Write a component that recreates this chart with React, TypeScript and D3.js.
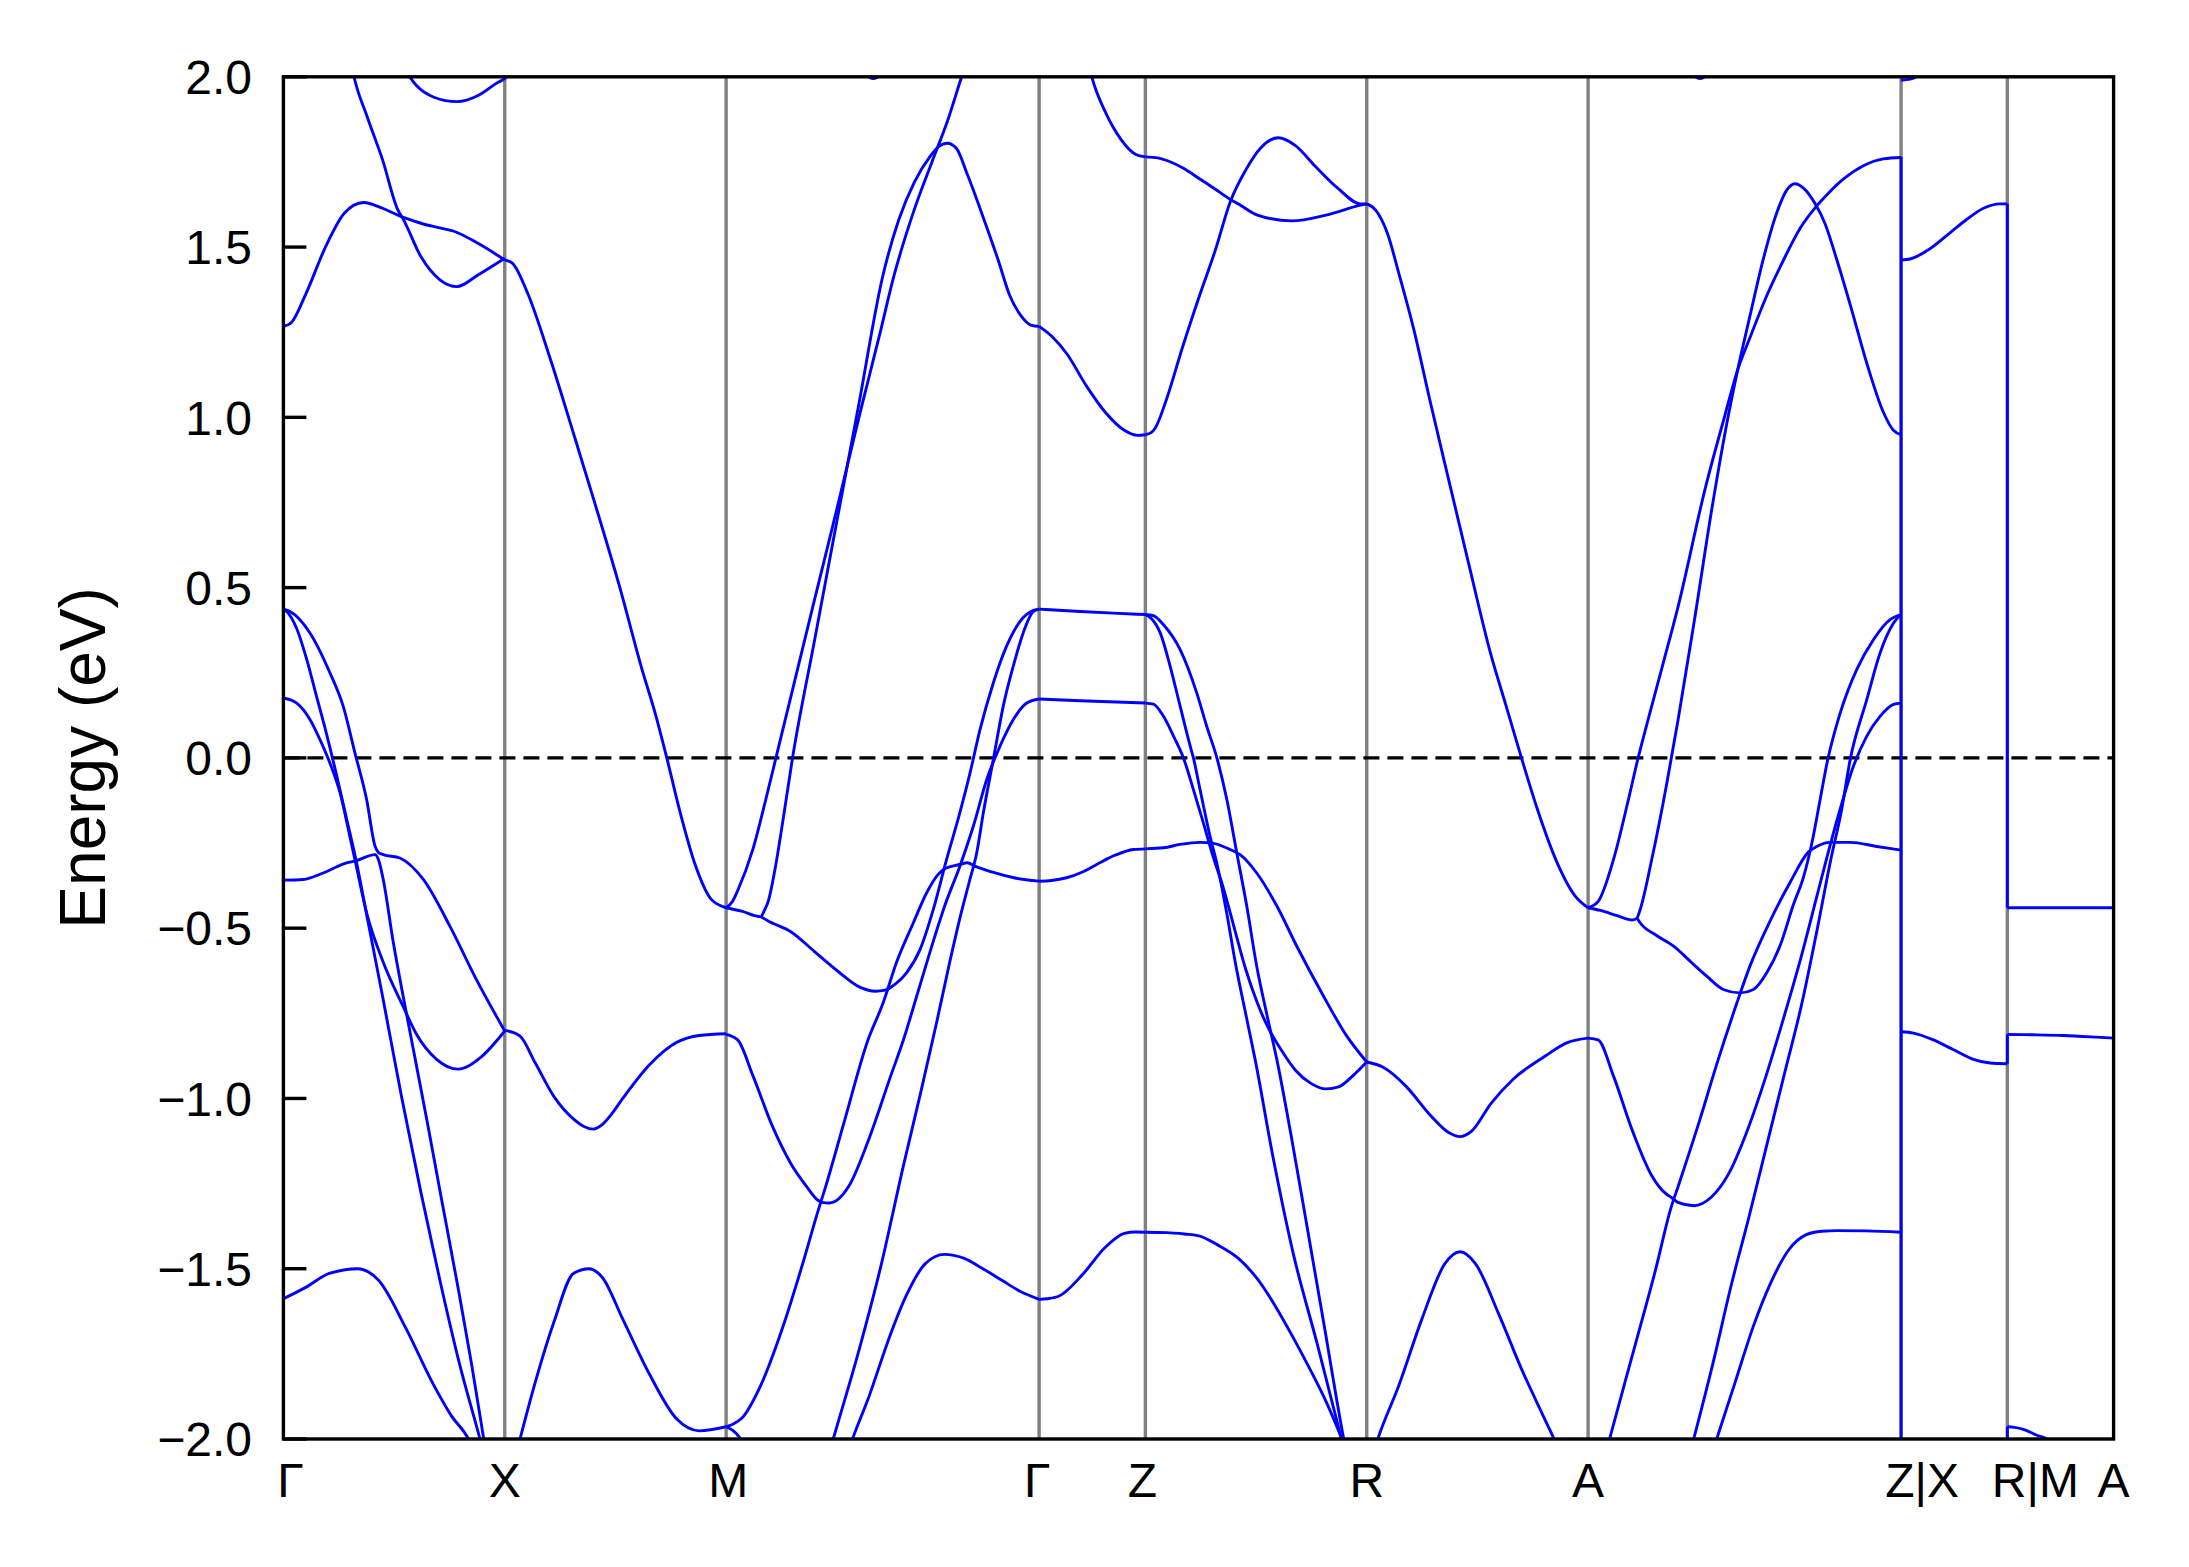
import React, { useEffect } from 'react';
import * as d3 from 'd3';

type P = [number, number];

// ---- axis data ----
const kTicks = [0, 1, 2, 3.414, 3.894, 4.894, 5.894, 7.308, 7.788, 8.268];
const kLabels = ['Γ', 'X', 'M', 'Γ', 'Z', 'R', 'A', 'Z|X', 'R|M', 'A'];
const eTicks = [-2.0, -1.5, -1.0, -0.5, 0.0, 0.5, 1.0, 1.5, 2.0];

// ---- Γ–X ----
const gxT1: P[] = [[0.30,2.06],[0.319,2.0],[0.38,1.88],[0.448,1.756],[0.517,1.609],[0.543,1.58],[0.621,1.472],[0.707,1.404],[0.784,1.384],[0.879,1.418],[1.0,1.467]];
const gxT2: P[] = [[0,1.267],[0.034,1.277],[0.103,1.365],[0.19,1.50],[0.276,1.60],[0.362,1.631],[0.448,1.614],[0.517,1.594],[0.552,1.585],[0.621,1.570],[0.70,1.557],[0.776,1.545],[0.879,1.511],[1,1.462]];
const gxT3: P[] = [[0.54,2.03],[0.60,1.975],[0.68,1.94],[0.784,1.927],[0.88,1.945],[0.96,1.98],[1.02,2.005],[1.06,2.04]];
const gxS1: P[] = [[0,0.437],[0.03,0.43],[0.12,0.367],[0.21,0.25],[0.27,0.152],[0.323,0.015],[0.376,-0.122],[0.414,-0.259],[0.43,-0.278],[0.451,-0.284],[0.526,-0.294],[0.632,-0.357],[0.752,-0.494],[0.872,-0.651],[1,-0.802]];
const gxS2: P[] = [[0,-0.359],[0.09,-0.357],[0.18,-0.338],[0.286,-0.308],[0.323,-0.303],[0.414,-0.284],[0.429,-0.298],[0.451,-0.357],[0.496,-0.54],[0.541,-0.70],[0.60,-0.90],[0.65,-1.07],[0.707,-1.27],[0.793,-1.57],[0.85,-1.78],[0.905,-2.0],[0.93,-2.1]];
const gxS3: P[] = [[0,0.437],[0.015,0.43],[0.06,0.38],[0.105,0.29],[0.15,0.18],[0.195,0.07],[0.24,-0.05],[0.286,-0.18],[0.328,-0.30],[0.379,-0.47],[0.448,-0.70],[0.534,-0.996],[0.621,-1.275],[0.707,-1.534],[0.793,-1.773],[0.888,-2.0],[0.92,-2.08]];
const gxS4: P[] = [[0,0.176],[0.06,0.161],[0.12,0.113],[0.165,0.054],[0.21,-0.015],[0.256,-0.103],[0.30,-0.23],[0.323,-0.298],[0.376,-0.455],[0.451,-0.60],[0.541,-0.73],[0.60,-0.81],[0.692,-0.885],[0.79,-0.914],[0.89,-0.88],[1,-0.802]];
const gxB15: P[] = [[0,-1.588],[0.103,-1.554],[0.207,-1.514],[0.336,-1.50],[0.43,-1.534],[0.552,-1.673],[0.672,-1.833],[0.759,-1.932],[0.836,-2.0],[0.87,-2.05]];

// ---- X–M ----
const xm1: P[] = [[1,1.462],[1.034,1.453],[1.103,1.365],[1.207,1.169],[1.31,0.954],[1.42,0.72],[1.52,0.50],[1.62,0.26],[1.68,0.13],[1.732,0],[1.79,-0.154],[1.862,-0.317],[1.931,-0.414],[2,-0.44]];
const xm2: P[] = [[1,-0.80],[1.069,-0.817],[1.138,-0.896],[1.224,-0.996],[1.31,-1.06],[1.36,-1.083],[1.40,-1.09],[1.44,-1.077],[1.48,-1.048],[1.533,-1.0],[1.654,-0.901],[1.775,-0.836],[1.879,-0.815],[2,-0.81]];
const xm3: P[] = [[1.03,-2.1],[1.069,-2.0],[1.138,-1.833],[1.224,-1.653],[1.31,-1.514],[1.38,-1.50],[1.44,-1.525],[1.533,-1.648],[1.654,-1.81],[1.775,-1.94],[1.879,-1.976],[2,-1.964]];

// ---- M–Γ ----
const mgA: P[] = [[2,-0.44],[2.03,-0.42],[2.052,-0.39],[2.121,-0.268],[2.18,-0.12],[2.225,0],[2.30,0.20],[2.40,0.466],[2.50,0.73],[2.60,1.0],[2.70,1.26],[2.756,1.41],[2.85,1.61],[2.93,1.75],[3.0,1.87],[3.064,2.0],[3.10,2.07]];
const mgB: P[] = [[2,-0.44],[2.07,-0.45],[2.156,-0.466],[2.175,-0.445],[2.19,-0.422],[2.22,-0.33],[2.26,-0.17],[2.30,0],[2.40,0.347],[2.50,0.694],[2.60,1.04],[2.706,1.41],[2.78,1.58],[2.85,1.69],[2.92,1.765],[2.96,1.795],[3.0,1.805],[3.04,1.79],[3.09,1.713],[3.16,1.59],[3.23,1.46],[3.28,1.36],[3.33,1.30],[3.38,1.27],[3.414,1.267]];
const mgArc: P[] = [[2.60,2.04],[2.635,2.005],[2.665,1.995],[2.695,2.005],[2.73,2.04]];
const mg068: P[] = [[2.156,-0.466],[2.19,-0.479],[2.294,-0.511],[2.398,-0.568],[2.502,-0.625],[2.606,-0.674],[2.675,-0.685],[2.718,-0.682],[2.761,-0.666],[2.815,-0.631],[2.876,-0.563],[2.936,-0.445],[2.996,-0.298],[3.056,-0.161],[3.102,-0.044],[3.147,0.083],[3.207,0.22],[3.267,0.328],[3.328,0.401],[3.388,0.433],[3.414,0.437]];
const mg4: P[] = [[2,-1.964],[2.035,-1.955],[2.069,-1.94],[2.156,-1.843],[2.26,-1.664],[2.346,-1.485],[2.415,-1.331],[2.45,-1.258],[2.536,-1.063],[2.64,-0.83],[2.709,-0.72],[2.77,-0.60],[2.846,-0.484],[2.906,-0.396],[2.958,-0.342],[2.99,-0.325],[3.056,-0.313],[3.09,-0.308],[3.124,-0.318],[3.2,-0.335],[3.3,-0.352],[3.414,-0.362]];
const mg5: P[] = [[2,-0.812],[2.052,-0.828],[2.121,-0.933],[2.208,-1.08],[2.294,-1.193],[2.363,-1.258],[2.415,-1.299],[2.433,-1.305],[2.467,-1.307],[2.554,-1.258],[2.64,-1.128],[2.744,-0.933],[2.80,-0.83],[2.87,-0.68],[2.94,-0.53],[2.99,-0.43],[3.056,-0.318],[3.117,-0.2],[3.177,-0.064],[3.237,0.034],[3.297,0.112],[3.358,0.161],[3.414,0.173]];
const mgL1: P[] = [[2.44,-2.1],[2.484,-2.0],[2.60,-1.74],[2.70,-1.49],[2.80,-1.2],[2.88,-0.98],[2.95,-0.78],[3.01,-0.60],[3.06,-0.46],[3.10,-0.36],[3.132,-0.279],[3.162,-0.161],[3.207,-0.005],[3.252,0.152],[3.297,0.269],[3.342,0.367],[3.388,0.43],[3.414,0.437]];
const mg146: P[] = [[2.50,-2.15],[2.571,-2.0],[2.64,-1.885],[2.744,-1.69],[2.813,-1.58],[2.90,-1.485],[2.986,-1.458],[3.073,-1.469],[3.16,-1.50],[3.246,-1.534],[3.33,-1.567],[3.414,-1.59]];
const mgDown: P[] = [[2,-1.964],[2.03,-1.975],[2.06,-1.995],[2.09,-2.03]];

// ---- Γ–Z ----
const gz044: P[] = [[3.414,0.437],[3.6,0.43],[3.75,0.425],[3.894,0.421]];
const gz017: P[] = [[3.414,0.173],[3.6,0.168],[3.894,0.161]];
const gz036: P[] = [[3.414,-0.362],[3.47,-0.36],[3.538,-0.352],[3.61,-0.335],[3.674,-0.313],[3.76,-0.285],[3.84,-0.269],[3.894,-0.267]];
const gz159: P[] = [[3.414,-1.59],[3.45,-1.588],[3.505,-1.58],[3.609,-1.518],[3.713,-1.437],[3.799,-1.396],[3.85,-1.392],[3.894,-1.393]];
const gz127: P[] = [[3.414,1.267],[3.471,1.238],[3.54,1.186],[3.626,1.094],[3.713,1.015],[3.799,0.962],[3.86,0.947],[3.894,0.949]];
const gzTop: P[] = [[3.63,2.06],[3.652,2.0],[3.713,1.897],[3.782,1.818],[3.851,1.772],[3.894,1.765]];

// ---- Z–R ----
const zrA: P[] = [[3.894,0.421],[3.93,0.418],[3.976,0.391],[4.051,0.318],[4.126,0.191],[4.171,0.093],[4.217,0],[4.262,-0.122],[4.307,-0.279],[4.352,-0.435],[4.397,-0.612],[4.445,-0.76],[4.488,-0.886],[4.55,-1.10],[4.62,-1.36],[4.70,-1.66],[4.79,-2.0],[4.82,-2.1]];
const zrB: P[] = [[3.894,0.421],[3.92,0.41],[3.961,0.367],[4.006,0.269],[4.051,0.152],[4.096,0.036],[4.111,0],[4.141,-0.093],[4.186,-0.23],[4.217,-0.31],[4.26,-0.45],[4.30,-0.60],[4.35,-0.76],[4.39,-0.886],[4.47,-1.17],[4.56,-1.45],[4.67,-1.72],[4.78,-2.0],[4.81,-2.08]];
const zrC: P[] = [[3.894,0.161],[3.93,0.158],[3.976,0.122],[4.021,0.064],[4.066,0],[4.111,-0.093],[4.156,-0.191],[4.2,-0.29],[4.243,-0.375],[4.30,-0.51],[4.347,-0.62],[4.40,-0.72],[4.451,-0.795],[4.51,-0.86],[4.572,-0.917],[4.64,-0.955],[4.71,-0.972],[4.77,-0.965],[4.832,-0.933],[4.894,-0.893]];
const zrD: P[] = [[3.894,-0.267],[3.976,-0.264],[4.051,-0.254],[4.141,-0.248],[4.202,-0.251],[4.277,-0.269],[4.322,-0.284],[4.397,-0.338],[4.488,-0.435],[4.578,-0.553],[4.699,-0.70],[4.804,-0.817],[4.894,-0.893]];
const zr139: P[] = [[3.894,-1.393],[3.99,-1.394],[4.07,-1.398],[4.14,-1.404],[4.22,-1.43],[4.313,-1.469],[4.40,-1.53],[4.486,-1.615],[4.56,-1.70],[4.624,-1.778],[4.711,-1.891],[4.78,-1.997],[4.80,-2.03]];
const zrUp1: P[] = [[3.894,1.765],[3.95,1.762],[4.0,1.752],[4.07,1.73],[4.14,1.70],[4.21,1.67],[4.278,1.64],[4.313,1.627],[4.4,1.594],[4.555,1.577],[4.71,1.594],[4.866,1.623],[4.894,1.627]];
const zrUp2: P[] = [[3.894,0.949],[3.92,0.955],[3.938,0.968],[3.99,1.054],[4.059,1.2],[4.14,1.36],[4.209,1.489],[4.278,1.634],[4.347,1.726],[4.416,1.792],[4.494,1.821],[4.572,1.798],[4.659,1.739],[4.763,1.673],[4.866,1.627],[4.894,1.627]];

// ---- R–A ----
const ra1: P[] = [[4.894,1.627],[4.915,1.62],[4.936,1.607],[4.987,1.541],[5.039,1.423],[5.109,1.252],[5.178,1.054],[5.264,0.817],[5.351,0.58],[5.455,0.303],[5.524,0.152],[5.593,0],[5.662,-0.145],[5.749,-0.30],[5.835,-0.405],[5.894,-0.44]];
const ra089: P[] = [[4.894,-0.893],[4.97,-0.909],[5.074,-0.966],[5.178,-1.047],[5.264,-1.10],[5.316,-1.112],[5.368,-1.096],[5.455,-1.015],[5.558,-0.942],[5.697,-0.877],[5.8,-0.836],[5.894,-0.823]];
const ra145: P[] = [[4.92,-2.05],[4.944,-2.0],[5.039,-1.843],[5.143,-1.648],[5.247,-1.485],[5.316,-1.45],[5.385,-1.485],[5.489,-1.631],[5.593,-1.794],[5.697,-1.94],[5.74,-2.0],[5.77,-2.05]];

// ---- A–Z ----
const az1: P[] = [[5.894,-0.44],[5.939,-0.422],[6.008,-0.30],[6.077,-0.12],[6.12,0],[6.16,0.10],[6.23,0.27],[6.302,0.448],[6.423,0.791],[6.51,1.001],[6.57,1.14],[6.626,1.235],[6.701,1.357],[6.777,1.462],[6.852,1.555],[6.927,1.621],[6.972,1.653],[7.048,1.70],[7.138,1.739],[7.228,1.759],[7.308,1.763]];
const az2: P[] = [[5.894,-0.44],[5.95,-0.448],[6.025,-0.463],[6.095,-0.476],[6.115,-0.47],[6.129,-0.446],[6.181,-0.30],[6.25,-0.073],[6.27,0],[6.30,0.11],[6.372,0.395],[6.458,0.751],[6.52,0.98],[6.57,1.14],[6.626,1.30],[6.686,1.466],[6.746,1.60],[6.792,1.668],[6.829,1.686],[6.867,1.673],[6.92,1.627],[6.965,1.568],[7.018,1.462],[7.078,1.331],[7.153,1.159],[7.228,1.015],[7.273,0.962],[7.308,0.949]];
const az069: P[] = [[6.115,-0.47],[6.129,-0.484],[6.20,-0.52],[6.28,-0.553],[6.36,-0.60],[6.43,-0.641],[6.505,-0.68],[6.58,-0.69],[6.641,-0.68],[6.701,-0.631],[6.762,-0.55],[6.822,-0.43],[6.867,-0.35],[6.905,-0.25],[6.94,-0.13],[6.975,-0.01],[7.032,0.13],[7.108,0.26],[7.183,0.347],[7.258,0.406],[7.308,0.421]];
const azII: P[] = [[5.95,-2.1],[5.991,-2.0],[6.10,-1.74],[6.20,-1.50],[6.269,-1.32],[6.30,-1.26],[6.40,-1.06],[6.475,-0.90],[6.566,-0.72],[6.626,-0.61],[6.716,-0.479],[6.807,-0.365],[6.89,-0.276],[6.927,-0.26],[6.987,-0.248],[7.078,-0.248],[7.198,-0.26],[7.308,-0.271]];
const azIII: P[] = [[5.894,-0.823],[5.939,-0.828],[6.008,-0.933],[6.095,-1.096],[6.181,-1.226],[6.25,-1.282],[6.269,-1.29],[6.30,-1.305],[6.372,-1.315],[6.45,-1.29],[6.53,-1.22],[6.61,-1.10],[6.69,-0.95],[6.77,-0.78],[6.85,-0.60],[6.93,-0.40],[6.99,-0.25],[7.032,-0.152],[7.093,-0.024],[7.153,0.064],[7.213,0.122],[7.274,0.157],[7.308,0.161]];
const azIV: P[] = [[6.33,-2.1],[6.371,-2.0],[6.458,-1.778],[6.54,-1.55],[6.62,-1.35],[6.70,-1.14],[6.78,-0.93],[6.86,-0.72],[6.93,-0.50],[6.99,-0.30],[7.04,-0.15],[7.078,-0.005],[7.153,0.171],[7.213,0.308],[7.274,0.396],[7.308,0.421]];
const az139: P[] = [[6.45,-2.05],[6.475,-2.0],[6.56,-1.83],[6.64,-1.67],[6.72,-1.54],[6.80,-1.445],[6.88,-1.40],[6.95,-1.39],[7.018,-1.388],[7.15,-1.389],[7.308,-1.393]];
const azArc: P[] = [[6.33,2.04],[6.37,2.005],[6.40,1.995],[6.43,2.005],[6.47,2.04]];

// ---- X–R ----
const xr146: P[] = [[7.308,1.462],[7.349,1.465],[7.424,1.489],[7.529,1.542],[7.604,1.581],[7.68,1.614],[7.755,1.627],[7.788,1.627]];
const xr080: P[] = [[7.308,-0.804],[7.364,-0.808],[7.454,-0.828],[7.545,-0.857],[7.635,-0.885],[7.71,-0.896],[7.788,-0.898]];
const xrArc: P[] = [[7.308,1.99],[7.35,1.993],[7.40,2.01],[7.43,2.03]];

// ---- M–A ----
const ma044: P[] = [[7.788,-0.44],[8.0,-0.44],[8.268,-0.44]];
const ma081: P[] = [[7.788,-0.812],[7.9,-0.813],[8.04,-0.815],[8.19,-0.82],[8.268,-0.823]];
const ma196: P[] = [[7.788,-1.964],[7.82,-1.966],[7.861,-1.972],[7.921,-1.989],[7.966,-2.0],[8.0,-2.02]];

// band discontinuities at the path breaks: [k, E from, E to]
const jumps: [number, number, number][] = [[7.308,-2.05,1.765],[7.788,-0.44,1.627],[7.788,-0.898,-0.812],[7.788,-2.05,-1.964]];

const bands: P[][] = [
  gxT1, gxT2, gxT3, gxS1, gxS2, gxS3, gxS4, gxB15,
  xm1, xm2, xm3,
  mgA, mgB, mgArc, mg068, mg4, mg5, mgL1, mg146, mgDown,
  gz044, gz017, gz036, gz159, gz127, gzTop,
  zrA, zrB, zrC, zrD, zr139, zrUp1, zrUp2,
  ra1, ra089, ra145,
  az1, az2, az069, azII, azIII, azIV, az139, azArc,
  xr146, xr080, xrArc,
  ma044, ma081, ma196,
];

// layout (pixels)
const W = 2189, H = 1567;
const L = 283.4, R = 2113.6, T = 76.8, B = 1439;
const labelNudge = [7, 0, 2, -2, -3, 0, 0, 21, 28, 0];
const FONT = '"Liberation Sans", Arial, Helvetica, sans-serif';

export default function App() {
  useEffect(() => {
    document.body.style.margin = '0';
    document.body.style.overflow = 'hidden';
  }, []);

  const x = d3.scaleLinear().domain([kTicks[0], kTicks[kTicks.length - 1]]).range([L, R]);
  const y = d3.scaleLinear().domain([-2, 2]).range([B, T]);
  const line = d3.line<P>().x(d => x(d[0])).y(d => y(d[1])).curve(d3.curveMonotoneX);
  const fmt = d3.format('.1f');

  return (
    <svg width={W} height={H} viewBox={`0 0 ${W} ${H}`}
      style={{ position: 'absolute', left: 0, top: 0, background: '#fff', display: 'block' }}>
      <defs>
        <clipPath id="plotclip">
          <rect x={L} y={T} width={R - L} height={B - T} />
        </clipPath>
      </defs>
      <rect x={0} y={0} width={W} height={H} fill="#fff" />
      {kTicks.slice(1, -1).map((k, i) => (
        <line key={'g' + i} x1={x(k)} x2={x(k)} y1={T} y2={B} stroke="#808080" strokeWidth={3.4} />
      ))}
      <line x1={L} x2={R} y1={y(0)} y2={y(0)} stroke="#000" strokeWidth={3.4} strokeDasharray="16 8" />
      <g clipPath="url(#plotclip)" fill="none" stroke="#0000ff" strokeWidth={2.9} strokeLinejoin="round">
        {bands.map((b, i) => <path key={'b' + i} d={line(b) || ''} />)}
        {jumps.map((j, i) => (
          <line key={'j' + i} x1={x(j[0])} x2={x(j[0])} y1={y(j[1])} y2={y(j[2])} />
        ))}
      </g>
      <rect x={L} y={T} width={R - L} height={B - T} fill="none" stroke="#000" strokeWidth={3.4} />
      {eTicks.map((e, i) => (
        <g key={'t' + i}>
          <line x1={L} x2={L + 23} y1={y(e)} y2={y(e)} stroke="#000" strokeWidth={3.4} />
          <text x={252} y={y(e)} dy="0.36em" textAnchor="end" fontFamily={FONT} fontSize={48} fill="#000">{fmt(e)}</text>
        </g>
      ))}
      {kTicks.map((k, i) => (
        <text key={'x' + i} x={x(k) + labelNudge[i]} y={1497} textAnchor="middle" fontFamily={FONT} fontSize={48} fill="#000">{kLabels[i]}</text>
      ))}
      <text transform={`translate(105,${(T + B) / 2}) rotate(-90)`} textAnchor="middle" fontFamily={FONT} fontSize={64} fill="#000">Energy (eV)</text>
    </svg>
  );
}
